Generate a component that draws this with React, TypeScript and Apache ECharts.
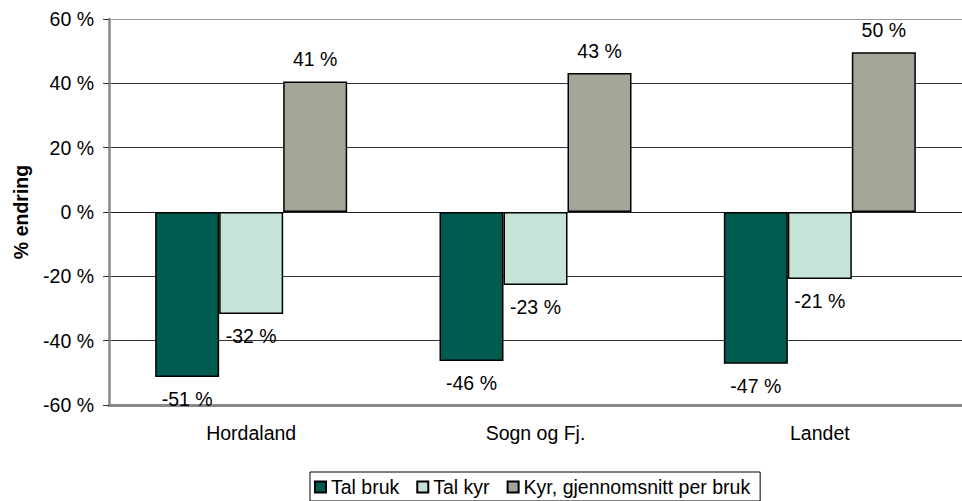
import React, { useEffect, useRef } from "react";
import * as echarts from "echarts";

const categories = ["Hordaland", "Sogn og Fj.", "Landet"];
const seriesNames = ["Tal bruk", "Tal kyr", "Kyr, gjennomsnitt per bruk"];
const talBruk = [-51.3, -46.3, -47.2];
const talKyr = [-31.7, -22.7, -20.8];
const kyrPerBruk = [40.6, 43.2, 49.7];
const seriesColors = ["#005B4F", "#C6E3D8", "#A3A598"];
const yMin = -60;
const yMax = 60;
const yStep = 20;
const yAxisTitle = "% endring";

const FONT = "'Liberation Sans', Arial, sans-serif";
const FS = 19.5;

export default function App() {
  const ref = useRef<HTMLDivElement>(null);
  useEffect(() => {
    if (!ref.current) return;
    const chart = echarts.init(ref.current, undefined, { renderer: "svg" });
    const allValues = [talBruk, talKyr, kyrPerBruk];
    const series = allValues.map((vals, i) => ({
      name: seriesNames[i],
      type: "bar",
      barWidth: 64,
      barGap: "0%",
      itemStyle: { color: seriesColors[i], borderColor: "#000", borderWidth: 1.5 },
      label: {
        show: true,
        distance: 12,
        color: "#000",
        fontFamily: FONT,
        fontSize: FS,
        formatter: (p: any) => Math.round(p.value) + " %",
      },
      data: vals.map((v) => ({
        value: v,
        label: { position: v < 0 ? "bottom" : "top" },
      })),
    }));
    chart.setOption({
      animation: false,
      textStyle: { fontFamily: FONT },
      grid: { left: 109, right: -8, top: 19, bottom: 96, containLabel: false },
      legend: {
        left: 310,
        top: 472,
        itemWidth: 11,
        itemHeight: 11,
        itemGap: 17,
        icon: "rect",
        borderColor: "#000",
        borderWidth: 1,
        borderRadius: 0,
        padding: [4, 10, 3, 4],
        textStyle: { fontFamily: FONT, fontSize: FS, color: "#000", lineHeight: 22 },
        data: seriesNames,
      },
      xAxis: {
        type: "category",
        data: categories,
        axisLine: { onZero: false, lineStyle: { color: "#888", width: 3 } },
        axisTick: { show: false },
        axisLabel: { color: "#000", fontFamily: FONT, fontSize: FS, margin: 18 },
        splitLine: { show: false },
      },
      yAxis: {
        type: "value",
        min: yMin,
        max: yMax,
        interval: yStep,
        name: yAxisTitle,
        nameLocation: "middle",
        nameGap: 78,
        nameRotate: 90,
        nameTextStyle: { fontFamily: FONT, fontSize: FS, fontWeight: "bold", color: "#000" },
        axisLine: { show: true, lineStyle: { color: "#888", width: 2.5 } },
        axisTick: { show: true, length: 6, lineStyle: { color: "#333", width: 1 } },
        axisLabel: {
          color: "#000",
          fontFamily: FONT,
          fontSize: FS,
          margin: 15,
          formatter: "{value} %",
        },
        splitLine: {
          show: true,
          lineStyle: {
            color: ["#888", "#333", "#333", "#222", "#333", "#333", "#999"],
            width: 1,
          },
        },
      },
      series,
    });
    return () => chart.dispose();
  }, []);
  return (
    <div
      ref={ref}
      style={{ position: "fixed", left: 0, top: 0, width: 962, height: 501, background: "#fff" }}
    />
  );
}
